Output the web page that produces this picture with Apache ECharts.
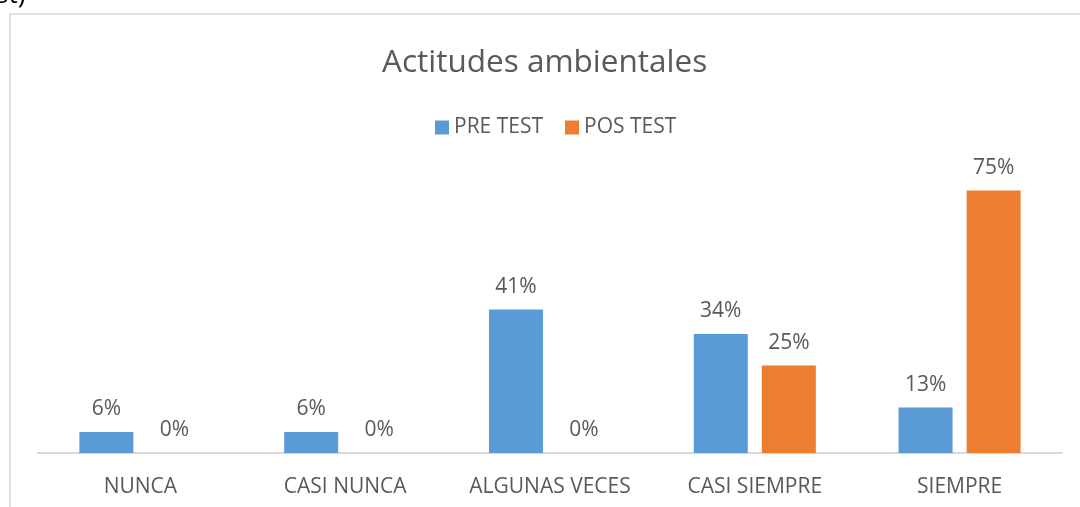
<!DOCTYPE html>
<html>
<head>
<meta charset="utf-8">
<script src="https://cdn.jsdelivr.net/npm/echarts@6/dist/echarts.min.js"></script>
<style>
html,body{margin:0;padding:0;background:#fff;}
#chart{width:1080px;height:507px;}
</style>
</head>
<body>
<div id="chart"></div>
<script>
const categories = ['NUNCA', 'CASI NUNCA', 'ALGUNAS VECES', 'CASI SIEMPRE', 'SIEMPRE'];
const preTest = [6, 6, 41, 34, 13];
const posTest = [0, 0, 0, 25, 75];
const seriesNames = ['PRE TEST', 'POS TEST'];

const chart = echarts.init(document.getElementById('chart'), null, {renderer: 'canvas'});
const font = '"Open Sans", "Noto Sans", sans-serif';
const txt = '#595959';
chart.setOption({
  animation: false,
  backgroundColor: '#fff',
  graphic: [
    {type: 'rect', shape: {x: 10, y: 14, width: 1100, height: 520}, style: {fill: 'none', stroke: '#D9D9D9', lineWidth: 1.5}, z: -1},
    {type: 'text', left: -4, top: -17, style: {text: 'st)', font: '26px ' + font, fill: '#000'}}
  ],
  title: {
    text: 'Actitudes ambientales',
    left: 377,
    top: 42,
    textStyle: {fontFamily: font, fontSize: 31.5, fontWeight: 'normal', color: txt}
  },
  legend: {
    data: seriesNames,
    top: 112,
    left: 430,
    itemWidth: 14,
    itemHeight: 14,
    itemGap: 22,
    icon: 'rect',
    textStyle: {fontFamily: font, fontSize: 21, color: txt, padding: [0, 0, 0, 0]}
  },
  grid: {left: 38, right: 18, top: 173, bottom: 54, containLabel: false},
  xAxis: {
    type: 'category',
    data: categories,
    axisLine: {lineStyle: {color: '#D9D9D9', width: 2}},
    axisTick: {show: false},
    axisLabel: {interval: 0, fontFamily: font, fontSize: 21, color: txt, margin: 24}
  },
  yAxis: {type: 'value', min: 0, max: 80, show: false, splitLine: {show: false}},
  series: [
    {
      name: seriesNames[0], type: 'bar', data: preTest, barWidth: 54, barGap: '26%',
      itemStyle: {color: '#5B9BD5'},
      label: {show: true, position: 'top', formatter: '{c}%', fontFamily: font, fontSize: 21, color: txt, distance: 12}
    },
    {
      name: seriesNames[1], type: 'bar', data: posTest, barWidth: 54,
      itemStyle: {color: '#ED7D31'},
      label: {show: true, position: 'top', formatter: '{c}%', fontFamily: font, fontSize: 21, color: txt, distance: 12}
    }
  ]
});
</script>
</body>
</html>
